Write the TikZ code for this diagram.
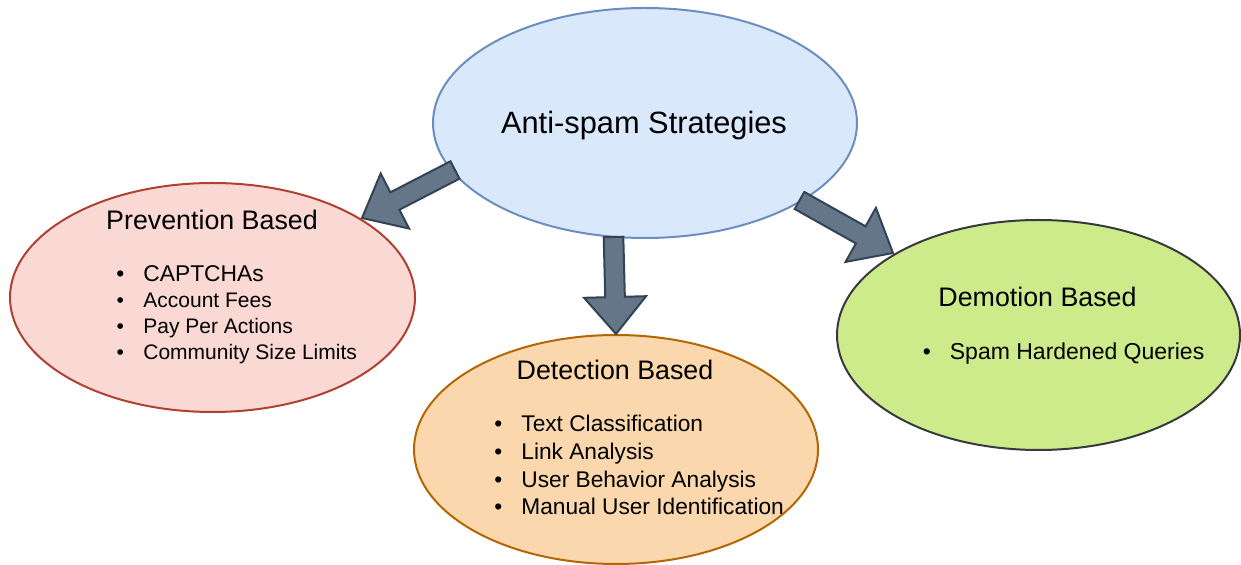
\documentclass[tikz,border=0pt]{standalone}
\usepackage{fontspec}
\setmainfont{Liberation Sans}
\usetikzlibrary{shapes.geometric,calc}
\definecolor{cfill}{HTML}{DAE8FC}\definecolor{cdraw}{HTML}{6C8EBF}
\definecolor{pfill}{HTML}{FAD9D5}\definecolor{pdraw}{HTML}{AE4132}
\definecolor{dfill}{HTML}{FAD7AC}\definecolor{ddraw}{HTML}{B46504}
\definecolor{mfill}{HTML}{CDEB8B}\definecolor{mdraw}{HTML}{36393D}
\definecolor{afill}{HTML}{647687}\definecolor{adraw}{HTML}{314354}
\tikzset{
  blob/.style={ellipse, draw, line width=1pt, inner sep=0pt},
  maintitle/.style={anchor=base, inner sep=0pt, font=\fontsize{15.4}{18}\selectfont},
  subtitle/.style={anchor=base, inner sep=0pt, font=\fontsize{13.4}{16}\selectfont},
  item/.style={anchor=base west, inner sep=0pt},
  blockarrow/.style={fill=afill, draw=adraw, line width=1pt, line join=miter},
}
\newcommand\bul{\makebox[0pt][c]{\textbullet}\hspace{11.5pt}}
% #1 tail coordinate, #2 tip coordinate
\newcommand\flexarrow[2]{%
  \coordinate (#1-hb) at ($(#2)!18.5pt!(#1)$);
  \draw[blockarrow] ($(#1)!4.9pt!90:(#2)$) -- ($(#1-hb)!4.9pt!-90:(#1)$)
    -- ($(#1-hb)!15.5pt!-90:(#1)$) -- (#2) -- ($(#1-hb)!15.5pt!90:(#1)$)
    -- ($(#1-hb)!4.9pt!90:(#1)$) -- ($(#1)!4.9pt!-90:(#2)$) -- cycle;}
\begin{document}
\begin{tikzpicture}[x=0.5pt,y=-0.5pt]
\useasboundingbox (0,0) rectangle (1241,565);
% ellipses
\node[blob, fill=cfill, draw=cdraw, minimum width=212pt, minimum height=115pt] (c) at (645,123) {};
\node[blob, fill=pfill, draw=pdraw, minimum width=202.5pt, minimum height=114.5pt] (p) at (212.5,297.5) {};
\node[blob, fill=dfill, draw=ddraw, minimum width=202pt, minimum height=114.5pt] (d) at (616,449.5) {};
\node[blob, fill=mfill, draw=mdraw, minimum width=201.5pt, minimum height=115pt] (m) at (1038.5,335) {};
% texts
\node[maintitle] (ct) at (644,134) {Anti-spam Strategies};
\node[subtitle] (pt) at (212,230) {Prevention Based};
\node[subtitle] (dt) at (615,380) {Detection Based};
\node[subtitle] (mt) at (1037.5,307) {Demotion Based};
\node[item, font=\fontsize{11.4}{13}\selectfont] (p1) at (120,281.5) {\bul CAPTCHAs};
\node[item, font=\fontsize{10.5}{13}\selectfont] (p2) at (120,307.5) {\bul Account Fees};
\node[item, font=\fontsize{10.5}{13}\selectfont] (p3) at (120,334) {\bul Pay Per Actions};
\node[item, font=\fontsize{10.5}{13}\selectfont] (p4) at (120,359.5) {\bul Community Size Limits};
\node[item, font=\fontsize{11.35}{13}\selectfont] (d1) at (498,431.5) {\bul Text Classification};
\node[item, font=\fontsize{11.35}{13}\selectfont] (d2) at (498,460) {\bul Link Analysis};
\node[item, font=\fontsize{11.35}{13}\selectfont] (d3) at (498,487.5) {\bul User Behavior Analysis};
\node[item, font=\fontsize{11.35}{13}\selectfont] (d4) at (498,515) {\bul Manual User Identification};
\node[item, font=\fontsize{11.5}{13}\selectfont] (m1) at (926.5,359.3) {\bul Spam Hardened Queries};
% arrows
\coordinate (a1t) at (455,170);   \coordinate (a1h) at (362,218);
\coordinate (a2t) at (613.5,237); \coordinate (a2h) at (616,334);
\coordinate (a3t) at (799.5,200.5); \coordinate (a3h) at (893,253);
\flexarrow{a1t}{a1h}
\flexarrow{a2t}{a2h}
\flexarrow{a3t}{a3h}
\end{tikzpicture}
\end{document}
